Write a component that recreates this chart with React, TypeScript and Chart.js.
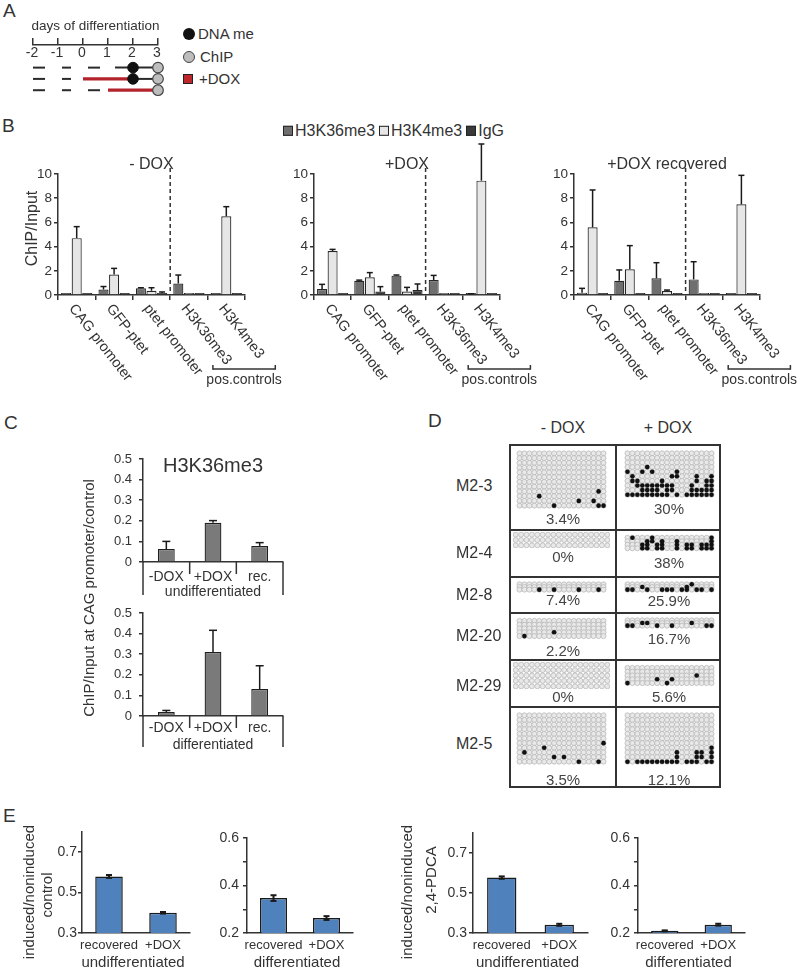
import React, { useEffect, useRef } from "react";
import { Chart, registerables } from "chart.js";

Chart.register(...registerables);

const FF = '"Liberation Sans", Arial, Helvetica, sans-serif';
Chart.defaults.font.family = FF;
Chart.defaults.color = "#333";

// ================= DATA =================
// Panel A
const A_DAYS = [-2, -1, 0, 1, 2, 3];
const A_CULTURE: number[][][] = [
  [[-2, -1.52], [-0.84, -0.48], [0.2, 0.68], [1.28, 3]],
  [[-2, -1.52], [-0.84, -0.48], [2, 3]],
  [[-2, -1.52], [-0.84, -0.48], [0.2, 0.68]],
];
const A_DOX: number[][][] = [[], [[0, 2]], [[1, 3]]];
const A_DNAME: (number | null)[] = [2, 2, null];
const A_CHIP = [3, 3, 3];
const A_LEGEND = ["DNA me", "ChIP", "+DOX"];

// Panel B
const B_CATEGORIES = ["CAG promoter", "GFP-ptet", "ptet promoter", "H3K36me3", "H3K4me3"];
const B_SERIES = ["H3K36me3", "H3K4me3", "IgG"];
const B_YTICKS = [0, 2, 4, 6, 8, 10];
const B_NODOX_K36 = [0.05, 0.45, 0.55, 0.95, 0.05];
const B_NODOX_K36_ERR = [0, 0.25, 0.05, 0.7, 0];
const B_NODOX_K4 = [4.7, 1.7, 0.35, 0.03, 6.5];
const B_NODOX_K4_ERR = [0.95, 0.5, 0.25, 0, 0.8];
const B_NODOX_IGG = [0.05, 0.12, 0.08, 0.03, 0.08];
const B_NODOX_IGG_ERR = [0, 0, 0.17, 0, 0];
const B_DOX_K36 = [0.5, 1.18, 1.6, 1.24, 0.05];
const B_DOX_K36_ERR = [0.38, 0.05, 0.05, 0.38, 0.05];
const B_DOX_K4 = [3.64, 1.46, 0.28, 0.02, 9.45];
const B_DOX_K4_ERR = [0.13, 0.39, 0.35, 0, 3.03];
const B_DOX_IGG = [0.05, 0.28, 0.41, 0.02, 0.05];
const B_DOX_IGG_ERR = [0, 0.41, 0.5, 0, 0];
const B_REC_K36 = [0.19, 1.18, 1.38, 1.29, 0.05];
const B_REC_K36_ERR = [0.36, 0.89, 1.29, 1.46, 0];
const B_REC_K4 = [5.59, 2.12, 0.33, 0.03, 7.49];
const B_REC_K4_ERR = [3.09, 1.96, 0.08, 0, 2.4];
const B_REC_IGG = [0.02, 0.05, 0.02, 0.05, 0.05];
const B_REC_IGG_ERR = [0, 0, 0, 0, 0];

// Panel C
const C_CATEGORIES = ["-DOX", "+DOX", "rec."];
const C_YTICKS = [0, 0.1, 0.2, 0.3, 0.4, 0.5];
const C_UNDIFF = [0.063, 0.19, 0.078];
const C_UNDIFF_ERR = [0.037, 0.011, 0.016];
const C_DIFF = [0.019, 0.311, 0.131];
const C_DIFF_ERR = [0.008, 0.105, 0.113];
const C_YTITLE = "ChIP/Input at CAG promoter/control";

// Panel D
const D_ROWS = ["M2-3", "M2-4", "M2-8", "M2-20", "M2-29", "M2-5"];
const D_CONDITIONS = ["- DOX", "+ DOX"];
const D_CPGS = 18;
const D_CLONES_NODOX = [12, 3, 3, 5, 5, 11];
const D_CLONES_DOX = [10, 4, 3, 3, 5, 11];
const D_PCT_NODOX = ["3.4%", "0%", "7.4%", "2.2%", "0%", "3.5%"];
const D_PCT_DOX = ["30%", "38%", "25.9%", "16.7%", "5.6%", "12.1%"];
// methylated CpGs as [cpg index, clone index]
const D_METH_NODOX: number[][][] = [
  [[4, 9], [7, 11], [12, 10], [15, 10], [16, 8], [16, 11], [17, 11]],
  [],
  [[4, 2], [7, 2], [12, 2], [16, 2]],
  [[1, 4], [7, 3]],
  [],
  [[1, 8], [5, 7], [7, 9], [9, 9], [12, 10], [16, 10], [17, 6]],
];
const D_METH_DOX: number[][][] = [
  [[4, 3],
   [0, 4], [3, 4], [5, 4], [10, 4],
   [1, 5], [9, 5], [10, 5], [14, 5], [17, 5],
   [1, 6], [2, 6], [7, 6], [14, 6], [16, 6], [17, 6],
   [2, 7], [3, 7], [4, 7], [5, 7], [6, 7], [7, 7], [8, 7], [9, 7], [13, 7], [16, 7], [17, 7],
   [3, 8], [4, 8], [5, 8], [6, 8], [8, 8], [9, 8], [13, 8], [14, 8], [15, 8], [16, 8], [17, 8],
   [0, 9], [1, 9], [2, 9], [3, 9], [4, 9], [5, 9], [6, 9], [7, 9], [8, 9], [10, 9], [12, 9], [13, 9], [14, 9], [15, 9], [16, 9], [17, 9]],
  [[1, 0], [5, 0], [17, 0],
   [4, 1], [5, 1], [7, 1], [10, 1], [17, 1],
   [3, 2], [4, 2], [6, 2], [7, 2], [10, 2], [12, 2], [13, 2], [15, 2], [16, 2], [17, 2],
   [3, 3], [4, 3], [6, 3], [7, 3], [10, 3], [12, 3], [13, 3], [15, 3], [16, 3], [17, 3]],
  [[13, 0], [3, 1], [12, 1], [0, 2], [1, 2], [4, 2], [7, 2], [8, 2], [9, 2], [11, 2], [12, 2], [14, 2], [15, 2], [17, 2]],
  [[3, 1], [4, 1], [13, 1], [0, 2], [1, 2], [6, 2], [9, 2], [16, 2], [17, 2]],
  [[14, 2], [6, 3], [9, 3], [0, 4], [8, 4]],
  [[17, 7], [10, 8], [14, 8], [15, 8], [17, 8], [10, 9], [14, 9], [15, 9], [17, 9],
   [0, 10], [2, 10], [3, 10], [4, 10], [5, 10], [6, 10], [7, 10], [8, 10], [9, 10], [10, 10], [12, 10], [13, 10], [14, 10], [16, 10], [17, 10]],
];

// Panel E
const E_CATEGORIES = ["recovered", "+DOX"];
const E_CTRL_UNDIFF = [0.58, 0.4];
const E_CTRL_UNDIFF_ERR = [0.007, 0.004];
const E_CTRL_DIFF = [0.347, 0.263];
const E_CTRL_DIFF_ERR = [0.012, 0.008];
const E_PDCA_UNDIFF = [0.577, 0.341];
const E_PDCA_UNDIFF_ERR = [0.006, 0.005];
const E_PDCA_DIFF = [0.209, 0.235];
const E_PDCA_DIFF_ERR = [0.002, 0.004];
const E_TICKS_UNDIFF = [0.3, 0.5, 0.7];
const E_TICKS_DIFF = [0.2, 0.3, 0.4, 0.5, 0.6];
const E_LABELED_DIFF = [0.2, 0.4, 0.6];

// ================= STYLE / LAYOUT =================
const INK = "#333";
const B_FILLS = ["#6f6f6f", "#e6e6e6", "#3a3a3a"];
const C_FILL = "#7a7a7a";
const E_FILL = "#4f81bd";
const D_HLINES = [530, 577, 613, 660, 707];
const D_GRID_TOP = [447, 532, 579, 615, 662, 709];
const D_LABEL_Y = [486, 553, 595, 636, 686, 744];
const D_PCT_Y_NODOX = [519, 557, 600, 651, 697, 780];
const D_PCT_Y_DOX = [509, 563, 601, 639, 697, 780];
const D_STEP = 5.4;

type Rect = [number, number, number, number];

// ================= DRAW HELPERS =================
function txt(ctx: CanvasRenderingContext2D, s: string, x: number, y: number, size: number, align: CanvasTextAlign = "center", color = INK) {
  ctx.save();
  ctx.font = `${size}px ${FF}`;
  ctx.fillStyle = color;
  ctx.textAlign = align;
  ctx.textBaseline = "middle";
  ctx.fillText(s, x, y);
  ctx.restore();
}
function vtxt(ctx: CanvasRenderingContext2D, s: string, x: number, y: number, size: number) {
  ctx.save();
  ctx.translate(x, y);
  ctx.rotate(-Math.PI / 2);
  txt(ctx, s, 0, 0, size);
  ctx.restore();
}
function seg(ctx: CanvasRenderingContext2D, x0: number, y0: number, x1: number, y1: number, w = 1.5, color = INK, dash: number[] = []) {
  ctx.save();
  ctx.strokeStyle = color;
  ctx.lineWidth = w;
  ctx.setLineDash(dash);
  ctx.beginPath();
  ctx.moveTo(x0, y0);
  ctx.lineTo(x1, y1);
  ctx.stroke();
  ctx.restore();
}

function errPlugin(errors: number[][], both: boolean, cap: number, width: number) {
  return {
    id: "errbars",
    afterDatasetsDraw(chart: any) {
      const ctx = chart.ctx;
      const ys = chart.scales.y;
      chart.data.datasets.forEach((ds: any, di: number) => {
        const e = errors[di];
        if (!e) return;
        const meta = chart.getDatasetMeta(di);
        meta.data.forEach((bar: any, i: number) => {
          const err = e[i];
          if (!err) return;
          const v = ds.data[i];
          const top = ys.getPixelForValue(v + err);
          const bot = both ? ys.getPixelForValue(v - err) : bar.y;
          seg(ctx, bar.x, bot, bar.x, top, width, "#1a1a1a");
          seg(ctx, bar.x - cap, top, bar.x + cap, top, width, "#1a1a1a");
          if (both) seg(ctx, bar.x - cap, bot, bar.x + cap, bot, width, "#1a1a1a");
        });
      });
    },
  };
}
function decoPlugin(draw: (chart: any) => void) {
  return { id: "deco", afterDraw: (chart: any) => draw(chart) };
}

function barConfig(o: any) {
  const [rx0, ry0, rx1, ry1] = o.rect as Rect;
  const [ax0, ay0, ax1, ay1] = o.area as Rect;
  return {
    type: "bar",
    data: { labels: o.labels, datasets: o.datasets },
    options: {
      animation: false,
      responsive: false,
      maintainAspectRatio: false,
      devicePixelRatio: 1,
      events: [],
      layout: { padding: { left: 0, top: ay0 - ry0, right: rx1 - ax1, bottom: 0 } },
      plugins: { legend: { display: false }, tooltip: { enabled: false } },
      scales: {
        x: {
          type: "category",
          offset: true,
          ticks: { display: false },
          grid: { display: !!o.xTicks, drawOnChartArea: false, offset: true, tickLength: 5, color: INK, lineWidth: 1.5 },
          border: { display: true, color: INK, width: 1.5 },
          afterFit: (s: any) => { s.height = ry1 - ay1; },
        },
        y: {
          min: o.yMin,
          max: o.yMax,
          afterBuildTicks: (s: any) => { s.ticks = o.yTicks.map((v: number) => ({ value: v })); },
          ticks: { font: { size: o.tickFont }, color: INK, padding: o.tickPad, callback: (v: any) => o.yLabel(Number(v)) },
          grid: { drawOnChartArea: false, tickLength: o.tickLen, color: INK, lineWidth: 1.5 },
          border: { display: true, color: INK, width: 1.5 },
          afterFit: (s: any) => { s.width = ax0 - rx0; },
        },
      },
    },
    plugins: [errPlugin(o.errors, o.both, o.cap, o.errWidth), decoPlugin(o.draw)],
  };
}

// ================= CHART BUILDERS =================
function buildA(rect: Rect, area: Rect) {
  const [rx0, ry0, rx1, ry1] = rect;
  const [ax0, ay0, ax1, ay1] = area;
  const datasets: any[] = [];
  datasets.push({
    data: A_DNAME.map((d, r) => (d === null ? null : { x: d, y: r })).filter((p) => p),
    showLine: false, pointRadius: 5.3, pointBackgroundColor: "#111", pointBorderColor: "#111", pointBorderWidth: 1, order: 0, clip: false,
  });
  datasets.push({
    data: A_CHIP.map((d, r) => ({ x: d, y: r })),
    showLine: false, pointRadius: 5.3, pointBackgroundColor: "#bdbdbd", pointBorderColor: "#444", pointBorderWidth: 1.2, order: 0, clip: false,
  });
  A_DOX.forEach((segs, r) => segs.forEach((s) => datasets.push({
    data: [{ x: s[0], y: r }, { x: s[1], y: r }], borderColor: "#b3232b", borderWidth: 3.2, pointRadius: 0, order: 1, clip: false,
  })));
  A_CULTURE.forEach((segs, r) => segs.forEach((s) => datasets.push({
    data: [{ x: s[0], y: r }, { x: s[1], y: r }], borderColor: "#2a2a2a", borderWidth: 2, pointRadius: 0, order: 2, clip: false,
  })));
  return {
    type: "line",
    data: { datasets },
    options: {
      animation: false, responsive: false, maintainAspectRatio: false, devicePixelRatio: 1, events: [],
      layout: { padding: { left: ax0 - rx0, right: rx1 - ax1, top: 0, bottom: ry1 - ay1 } },
      plugins: { legend: { display: false }, tooltip: { enabled: false } },
      scales: {
        x: {
          type: "linear", position: "top", min: -2, max: 3,
          afterBuildTicks: (s: any) => { s.ticks = A_DAYS.map((v) => ({ value: v })); },
          ticks: { display: false },
          grid: { drawOnChartArea: false, tickLength: 7, color: INK, lineWidth: 1.5 },
          border: { display: true, color: INK, width: 1.5 },
          afterFit: (s: any) => { s.height = ay0 - ry0; },
        },
        y: { type: "linear", display: false, min: -2, max: 2.6, reverse: true },
      },
    },
    plugins: [decoPlugin((chart: any) => {
      const { ctx, chartArea: ca, scales: { x } } = chart;
      A_DAYS.forEach((d) => txt(ctx, String(d), x.getPixelForValue(d) - 1, ca.top + 8, 14));
      txt(ctx, "days of differentiation", (ca.left + ca.right) / 2, ca.top - 19, 13.5);
    })],
  };
}

function buildB(rect: Rect, area: Rect, vals: number[][], errs: number[][], title: string, yTitle: boolean) {
  return barConfig({
    rect, area, labels: B_CATEGORIES,
    datasets: B_SERIES.map((name, k) => ({
      label: name, data: vals[k], backgroundColor: B_FILLS[k], borderColor: "#262626", borderWidth: 1.2,
      barPercentage: 0.95, categoryPercentage: 0.85, minBarLength: 2,
    })),
    yMin: 0, yMax: 10, yTicks: B_YTICKS, yLabel: (v: number) => String(v), tickFont: 13.5, tickLen: 4, tickPad: 2,
    errors: errs, both: false, cap: 3, errWidth: 1.5, xTicks: true,
    draw: (chart: any) => {
      const { ctx, chartArea: ca, scales: { x } } = chart;
      txt(ctx, title, (ca.left + ca.right) / 2, ca.top - 9, 16);
      const xd = (x.getPixelForValue(2) + x.getPixelForValue(3)) / 2;
      seg(ctx, xd, ca.top - 6, xd, ca.bottom, 1.5, INK, [4, 3]);
      B_CATEGORIES.forEach((lab, i) => {
        const px = x.getPixelForValue(i);
        ctx.save();
        ctx.translate(px - 5, ca.bottom + 11);
        ctx.rotate((52 * Math.PI) / 180);
        txt(ctx, lab, 0, 0, 14.5, "left");
        ctx.restore();
      });
      const b0 = x.getPixelForValue(3) + 24;
      const b1 = x.getPixelForValue(4) + 49;
      const by = ca.bottom + 74;
      seg(ctx, b0, by - 4, b0, by + 0.7);
      seg(ctx, b0, by, b1, by);
      seg(ctx, b1, by - 4, b1, by + 0.7);
      txt(ctx, "pos.controls", (b0 + b1) / 2, by + 11, 14);
      if (yTitle) vtxt(ctx, "ChIP/Input", ca.left - 25, (ca.top + ca.bottom) / 2 - 6, 16);
    },
  });
}

function buildC(rect: Rect, area: Rect, vals: number[], errs: number[], sub: string, title: string | null,
  longLen: number, labOff: number, subOff: number, yTitle: [string, number, number] | null) {
  return barConfig({
    rect, area, labels: C_CATEGORIES,
    datasets: [{ data: vals, backgroundColor: C_FILL, borderColor: "#1e1e1e", borderWidth: 1.3, barPercentage: 0.36, categoryPercentage: 1 }],
    yMin: 0, yMax: 0.5, yTicks: C_YTICKS, yLabel: (v: number) => (v === 0 ? "0" : v.toFixed(1)), tickFont: 13, tickLen: 4, tickPad: 7,
    errors: [errs], both: false, cap: 4, errWidth: 1.5, xTicks: false,
    draw: (chart: any) => {
      const { ctx, chartArea: ca, scales: { x } } = chart;
      seg(ctx, ca.left, ca.bottom, ca.left, ca.bottom + longLen);
      seg(ctx, ca.right, ca.bottom, ca.right, ca.bottom + longLen);
      for (let i = 0; i < C_CATEGORIES.length - 1; i++) {
        const bx = (x.getPixelForValue(i) + x.getPixelForValue(i + 1)) / 2;
        seg(ctx, bx, ca.bottom, bx, ca.bottom + 12);
      }
      C_CATEGORIES.forEach((lab, i) => txt(ctx, lab, x.getPixelForValue(i), ca.bottom + labOff, 14));
      txt(ctx, sub, (ca.left + ca.right) / 2, ca.bottom + subOff, 14);
      if (title) txt(ctx, title, (ca.left + ca.right) / 2, ca.top + 7, 20);
      if (yTitle) vtxt(ctx, yTitle[0], yTitle[1] - rect[0], yTitle[2] - rect[1], 15);
    },
  });
}

function buildE(rect: Rect, area: Rect, vals: number[], errs: number[], sub: string, ticks: number[], labeled: number[], yMin: number, yMax: number, tickPad: number, yTitles: [string, number, number][]) {
  return barConfig({
    rect, area, labels: E_CATEGORIES,
    datasets: [{ data: vals, backgroundColor: E_FILL, borderColor: "#1b1b1b", borderWidth: 1.5, barPercentage: 0.51, categoryPercentage: 1 }],
    yMin, yMax, yTicks: ticks,
    yLabel: (v: number) => (labeled.some((t) => Math.abs(t - v) < 1e-6) ? v.toFixed(1) : ""),
    tickFont: 14, tickLen: 4, tickPad,
    errors: [errs], both: true, cap: 3, errWidth: 2, xTicks: false,
    draw: (chart: any) => {
      const { ctx, chartArea: ca, scales: { x } } = chart;
      E_CATEGORIES.forEach((lab, i) => txt(ctx, lab, x.getPixelForValue(i), ca.bottom + 12, 13));
      txt(ctx, sub, (ca.left + ca.right) / 2 - 3, ca.bottom + 30, 15);
      yTitles.forEach(([t, px, py]) => vtxt(ctx, t, px - rect[0], py - rect[1], 15));
    },
  });
}

function buildCell(meth: number[][], nClones: number) {
  const gridPlugin = {
    id: "cpggrid",
    beforeDatasetsDraw(chart: any) {
      const { ctx, scales: { x, y } } = chart;
      ctx.save();
      ctx.fillStyle = "#e9e9e9";
      ctx.strokeStyle = "#b9b9b9";
      ctx.lineWidth = 0.8;
      for (let r = 0; r < nClones; r++) {
        for (let c = 0; c < D_CPGS; c++) {
          ctx.beginPath();
          ctx.arc(x.getPixelForValue(c), y.getPixelForValue(r), 2.5, 0, Math.PI * 2);
          ctx.fill();
          ctx.stroke();
        }
      }
      ctx.restore();
    },
  };
  return {
    type: "scatter",
    data: {
      datasets: [{
        data: meth.map(([c, r]) => ({ x: c, y: r })),
        pointRadius: 2.3, pointBackgroundColor: "#111", backgroundColor: "#111", pointBorderWidth: 0, clip: false,
      }],
    },
    options: {
      animation: false, responsive: false, maintainAspectRatio: false, devicePixelRatio: 1, events: [],
      layout: { padding: 0 },
      plugins: { legend: { display: false }, tooltip: { enabled: false } },
      scales: {
        x: { type: "linear", display: false, min: -0.5, max: D_CPGS - 0.5 },
        y: { type: "linear", display: false, min: -0.5, max: nClones - 0.5, reverse: true },
      },
    },
    plugins: [gridPlugin],
  };
}

// ================= COMPONENTS =================
function ChartCanvas({ rect, build }: { rect: Rect; build: () => any }) {
  const ref = useRef<HTMLCanvasElement>(null);
  useEffect(() => {
    const c = ref.current;
    if (!c) return;
    const chart = new Chart(c, build());
    return () => chart.destroy();
  }, []);
  const w = Math.round(rect[2] - rect[0]);
  const h = Math.round(rect[3] - rect[1]);
  return (
    <canvas ref={ref} width={w} height={h}
      style={{ position: "absolute", left: rect[0], top: rect[1], width: w, height: h }} />
  );
}

function T({ x, y, s, size = 15, align = "left", color = INK }: any) {
  const tx = align === "center" ? "-50%" : align === "right" ? "-100%" : "0";
  return (
    <div style={{
      position: "absolute", left: x, top: y, fontSize: size, lineHeight: 1.15, whiteSpace: "nowrap", color,
      transform: `translate(${tx},-50%)`,
    }}>{s}</div>
  );
}

function Letter({ ch, x, y }: any) {
  return <div style={{ position: "absolute", left: x, top: y, fontSize: 19, lineHeight: "19px", color: INK }}>{ch}</div>;
}

function Box({ x, y, w, h, bg = INK }: any) {
  return <div style={{ position: "absolute", left: x, top: y, width: w, height: h, background: bg }} />;
}

export default function App() {
  const rectB1: Rect = [0, 100, 295, 395];
  const rectB2: Rect = [270, 100, 550, 395];
  const rectB3: Rect = [530, 100, 800, 395];
  const rectC1: Rect = [60, 440, 300, 600];
  const rectC2: Rect = [60, 470, 300, 755];
  return (
    <div style={{ position: "absolute", left: 0, top: 0, width: 800, height: 973, background: "#fff", overflow: "hidden", fontFamily: FF, color: INK }}>
      {/* Panel letters */}
      <Letter ch="A" x={3} y={1} />
      <Letter ch="B" x={2} y={116} />
      <Letter ch="C" x={4} y={413} />
      <Letter ch="D" x={428} y={411} />
      <Letter ch="E" x={3} y={806} />

      {/* Panel A */}
      <ChartCanvas rect={[0, 0, 175, 105]} build={() => buildA([0, 0, 175, 105], [33, 45, 158, 97])} />
      <div style={{ position: "absolute", left: 183, top: 28, width: 12, height: 12, borderRadius: "50%", background: "#111" }} />
      <T x={198} y={34} s={A_LEGEND[0]} size={15} />
      <div style={{ position: "absolute", left: 183, top: 51, width: 10, height: 10, borderRadius: "50%", background: "#bdbdbd", border: "1.2px solid #444" }} />
      <T x={200} y={57} s={A_LEGEND[1]} size={15} />
      <div style={{ position: "absolute", left: 183, top: 74, width: 8, height: 8, background: "#c0272d", border: "1.5px solid #222" }} />
      <T x={199} y={79} s={A_LEGEND[2]} size={15} />

      {/* Panel B legend */}
      <div style={{ position: "absolute", left: 283, top: 131, transform: "translateY(-50%)", display: "flex", alignItems: "center", fontSize: 16, whiteSpace: "nowrap", lineHeight: 1.15 }}>
        {B_SERIES.map((name, k) => (
          <React.Fragment key={name}>
            <span style={{ display: "inline-block", width: 8, height: 8, background: B_FILLS[k], border: "1px solid #222", marginRight: 2 }} />
            <span style={{ marginRight: 4 }}>{name}</span>
          </React.Fragment>
        ))}
      </div>

      {/* Panel B charts */}
      <ChartCanvas rect={rectB1} build={() => buildB(rectB1, [58, 174, 245, 295],
        [B_NODOX_K36, B_NODOX_K4, B_NODOX_IGG], [B_NODOX_K36_ERR, B_NODOX_K4_ERR, B_NODOX_IGG_ERR], "- DOX", true)} />
      <ChartCanvas rect={rectB2} build={() => buildB(rectB2, [314, 174, 500, 295],
        [B_DOX_K36, B_DOX_K4, B_DOX_IGG], [B_DOX_K36_ERR, B_DOX_K4_ERR, B_DOX_IGG_ERR], "+DOX", false)} />
      <ChartCanvas rect={rectB3} build={() => buildB(rectB3, [574, 174, 760, 295],
        [B_REC_K36, B_REC_K4, B_REC_IGG], [B_REC_K36_ERR, B_REC_K4_ERR, B_REC_IGG_ERR], "+DOX recovered", false)} />

      {/* Panel C */}
      <ChartCanvas rect={rectC1} build={() => buildC(rectC1, [143, 459, 283, 562],
        C_UNDIFF, C_UNDIFF_ERR, "undifferentiated", "H3K36me3", 33, 15, 30, null)} />
      <ChartCanvas rect={rectC2} build={() => buildC(rectC2, [143, 613, 283, 716],
        C_DIFF, C_DIFF_ERR, "differentiated", null, 31, 12, 29, [C_YTITLE, 90, 598])} />

      {/* Panel D */}
      <T x={563} y={428} s={D_CONDITIONS[0]} size={16} align="center" />
      <T x={668} y={428} s={D_CONDITIONS[1]} size={16} align="center" />
      {D_ROWS.map((name, i) => (
        <React.Fragment key={name}>
          <T x={456} y={D_LABEL_Y[i]} s={name} size={16} />
          <ChartCanvas rect={[513, D_GRID_TOP[i], 610, D_GRID_TOP[i] + D_STEP * D_CLONES_NODOX[i]]}
            build={() => buildCell(D_METH_NODOX[i], D_CLONES_NODOX[i])} />
          <ChartCanvas rect={[621, D_GRID_TOP[i], 718, D_GRID_TOP[i] + D_STEP * D_CLONES_DOX[i]]}
            build={() => buildCell(D_METH_DOX[i], D_CLONES_DOX[i])} />
          <T x={563} y={D_PCT_Y_NODOX[i]} s={D_PCT_NODOX[i]} size={15} align="center" color="#444" />
          <T x={669} y={D_PCT_Y_DOX[i]} s={D_PCT_DOX[i]} size={15} align="center" color="#444" />
        </React.Fragment>
      ))}
      <div style={{ position: "absolute", left: 509, top: 444, width: 212, height: 344, border: "2px solid #333", boxSizing: "border-box" }} />
      <Box x={615} y={444} w={2} h={344} />
      {D_HLINES.map((y) => <Box key={y} x={509} y={y - 1} w={212} h={2} />)}

      {/* Panel E */}
      <ChartCanvas rect={[0, 812, 200, 973]} build={() => buildE([0, 812, 200, 973], [82, 832, 190, 933],
        E_CTRL_UNDIFF, E_CTRL_UNDIFF_ERR, "undifferentiated", E_TICKS_UNDIFF, E_TICKS_UNDIFF, 0.3, 0.8, 1,
        [["induced/noninduced", 30, 892], ["control", 48, 895]])} />
      <ChartCanvas rect={[195, 818, 365, 973]} build={() => buildE([195, 818, 365, 973], [247, 838, 353, 933],
        E_CTRL_DIFF, E_CTRL_DIFF_ERR, "differentiated", E_TICKS_DIFF, E_LABELED_DIFF, 0.2, 0.6, 4, [])} />
      <ChartCanvas rect={[395, 812, 600, 973]} build={() => buildE([395, 812, 600, 973], [473, 833, 588, 933],
        E_PDCA_UNDIFF, E_PDCA_UNDIFF_ERR, "undifferentiated", E_TICKS_UNDIFF, E_TICKS_UNDIFF, 0.3, 0.8, 2,
        [["induced/noninduced", 408, 892], ["2,4-PDCA", 432, 880]])} />
      <ChartCanvas rect={[590, 818, 760, 973]} build={() => buildE([590, 818, 760, 973], [638, 838, 745, 933],
        E_PDCA_DIFF, E_PDCA_DIFF_ERR, "differentiated", E_TICKS_DIFF, E_LABELED_DIFF, 0.2, 0.6, 4, [])} />
    </div>
  );
}
